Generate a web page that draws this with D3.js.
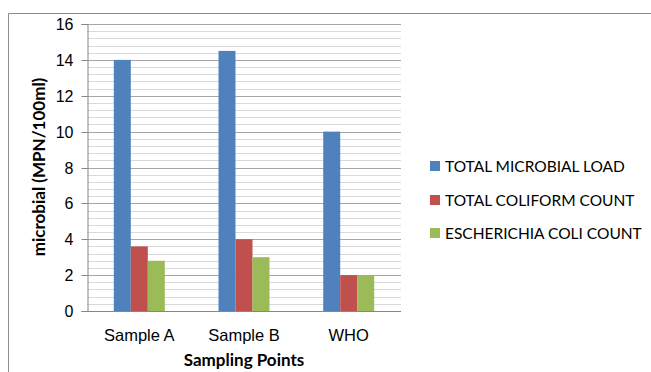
<!DOCTYPE html>
<html>
<head>
<meta charset="utf-8">
<script src="https://cdn.jsdelivr.net/npm/d3@7"></script>
<style>
  html, body { margin: 0; padding: 0; background: #fff; }
  svg { display: block; font-family: Lato, "Open Sans", sans-serif; }
</style>
</head>
<body>
<svg id="chart" width="651" height="372"></svg>
<script>
// Sampling points and microbial counts (MPN/100ml)
const categories = ["Sample A", "Sample B", "WHO"];
const seriesNames = ["TOTAL MICROBIAL LOAD", "TOTAL COLIFORM COUNT", "ESCHERICHIA COLI COUNT"];
const totalMicrobialLoad = [14, 14.5, 10];
const totalColiformCount = [3.6, 4, 2];
const eColiCount = [2.8, 3, 2];
const yTicks = [0, 2, 4, 6, 8, 10, 12, 14, 16];
const seriesColors = ["#4f81bd", "#c0504d", "#9bbb59"];

const seriesValues = [totalMicrobialLoad, totalColiformCount, eColiCount];

const svg = d3.select("#chart");
const plot = { left: 87, right: 401, top: 24, bottom: 311 };

// outer frame (top and left edges visible)
svg.append("path")
  .attr("d", "M8.5,372 V13.5 H651")
  .attr("fill", "none")
  .attr("stroke", "#8c8c8c")
  .attr("stroke-width", 1);

const y = d3.scaleLinear().domain([0, 16]).range([plot.bottom, plot.top]);
const x0 = d3.scaleBand().domain(categories).range([plot.left, plot.right])
  .paddingInner(0.513).paddingOuter(0.256);
const x1 = d3.scaleBand().domain(d3.range(seriesNames.length)).range([0, x0.bandwidth()]);

// minor gridlines every 0.4
const minor = d3.range(0, 16.0001, 0.4).filter(v => Math.abs(v / 2 - Math.round(v / 2)) > 1e-6);
svg.append("g").selectAll("line").data(minor).join("line")
  .attr("x1", plot.left).attr("x2", plot.right)
  .attr("y1", d => Math.round(y(d)) + 0.5).attr("y2", d => Math.round(y(d)) + 0.5)
  .attr("stroke", "#d9d9d9").attr("stroke-width", 1);

// major gridlines
svg.append("g").selectAll("line").data(yTicks.filter(v => v > 0)).join("line")
  .attr("x1", plot.left).attr("x2", plot.right)
  .attr("y1", d => Math.round(y(d)) + 0.5).attr("y2", d => Math.round(y(d)) + 0.5)
  .attr("stroke", "#a6a6a6").attr("stroke-width", 1);

// bars
const rows = categories.map((c, i) => ({ c, vals: seriesValues.map(s => s[i]) }));
svg.append("g").selectAll("g").data(rows).join("g")
  .attr("transform", d => `translate(${x0(d.c)},0)`)
  .selectAll("rect").data(d => d.vals.map((v, k) => ({ v, k }))).join("rect")
  .attr("x", d => x1(d.k))
  .attr("width", x1.bandwidth())
  .attr("y", d => y(d.v))
  .attr("height", d => y(0) - y(d.v))
  .attr("fill", d => seriesColors[d.k]);

// y axis
const yAxis = svg.append("g")
  .attr("transform", `translate(${plot.left + 0.5},0)`)
  .call(d3.axisLeft(y).tickValues(yTicks).tickSize(6).tickPadding(8));
yAxis.select(".domain").attr("stroke", "#868686");
yAxis.selectAll(".tick line").attr("stroke", "#868686");
yAxis.selectAll(".tick text").attr("fill", "#000").style("font-size", "16px");
yAxis.selectAll(".tick").attr("transform", d => `translate(0,${Math.round(y(d)) + 0.5})`);

// x axis baseline
svg.append("line")
  .attr("x1", plot.left).attr("x2", plot.right)
  .attr("y1", plot.bottom + 0.5).attr("y2", plot.bottom + 0.5)
  .attr("stroke", "#868686");

// category labels
const xAxis = svg.append("g")
  .attr("transform", `translate(0,${plot.bottom})`)
  .call(d3.axisBottom(x0).tickSize(0).tickPadding(18));
xAxis.select(".domain").remove();
xAxis.selectAll(".tick text").attr("fill", "#000").style("font-size", "16.5px");

// axis titles
svg.append("text")
  .attr("x", 244).attr("y", 366)
  .attr("text-anchor", "middle")
  .style("font-size", "17px").style("font-weight", "bold")
  .text("Sampling Points");

svg.append("text")
  .attr("transform", "translate(45,167) rotate(-90)")
  .attr("text-anchor", "middle")
  .style("font-size", "17px").style("font-weight", "bold")
  .text("microbial (MPN/100ml)");

// legend
const legend = svg.append("g").attr("transform", "translate(430,0)");
const legendY = [166, 200, 233];
seriesNames.forEach((name, i) => {
  legend.append("rect")
    .attr("x", 0).attr("y", legendY[i] - 5)
    .attr("width", 10).attr("height", 10)
    .attr("fill", seriesColors[i]);
  legend.append("text")
    .attr("x", 15).attr("y", legendY[i] + 5.5)
    .style("font-size", "15.5px").attr("fill", "#000")
    .text(name);
});
</script>
</body>
</html>
